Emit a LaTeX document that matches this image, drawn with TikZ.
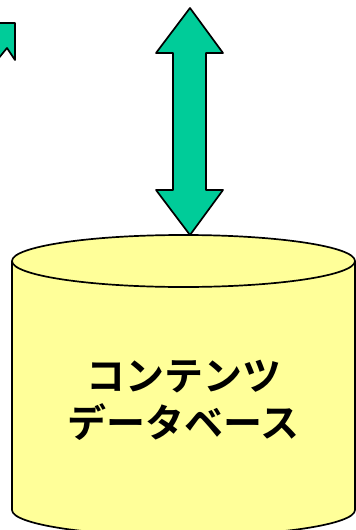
\documentclass[tikz,border=0pt]{standalone}
\usepackage{fontspec}
\newfontfamily\cjk{Noto Sans CJK JP Bold}
\definecolor{arrowgreen}{HTML}{00CC99}
\definecolor{dbyellow}{HTML}{FFFF99}
\begin{document}
\begin{tikzpicture}[x=1pt,y=-1pt,
  shapeline/.style={draw=black,line width=1.7pt,line join=round},
  lbl/.style={font=\cjk\fontsize{39}{47}\selectfont,align=center,inner sep=0pt}]
\useasboundingbox (0,0) rectangle (356,530);
% cylinder
\fill[dbyellow] (12,261) -- (12,510) arc[start angle=180,end angle=360,x radius=171.5,y radius=-26] -- (355,261) -- cycle;
\draw[shapeline] (12,261) -- (12,510) arc[start angle=180,end angle=360,x radius=171.5,y radius=-26] -- (355,261);
\draw[shapeline,fill=dbyellow] (183.5,261) ellipse[x radius=171.5,y radius=26];
\node[lbl] (db) at (183.5,400) {コンテンツ\\データベース};
% double arrow
\draw[shapeline,fill=arrowgreen] (190,8) -- (223,53) -- (206,53) -- (206,190) -- (223,190) -- (190,235) -- (156,190) -- (173,190) -- (173,53) -- (156,53) -- cycle;
% partial arrow top-left
\draw[shapeline,fill=arrowgreen] (-2,23) -- (15,23) -- (15,60) -- (7,48) -- (-2,59);
\end{tikzpicture}
\end{document}
